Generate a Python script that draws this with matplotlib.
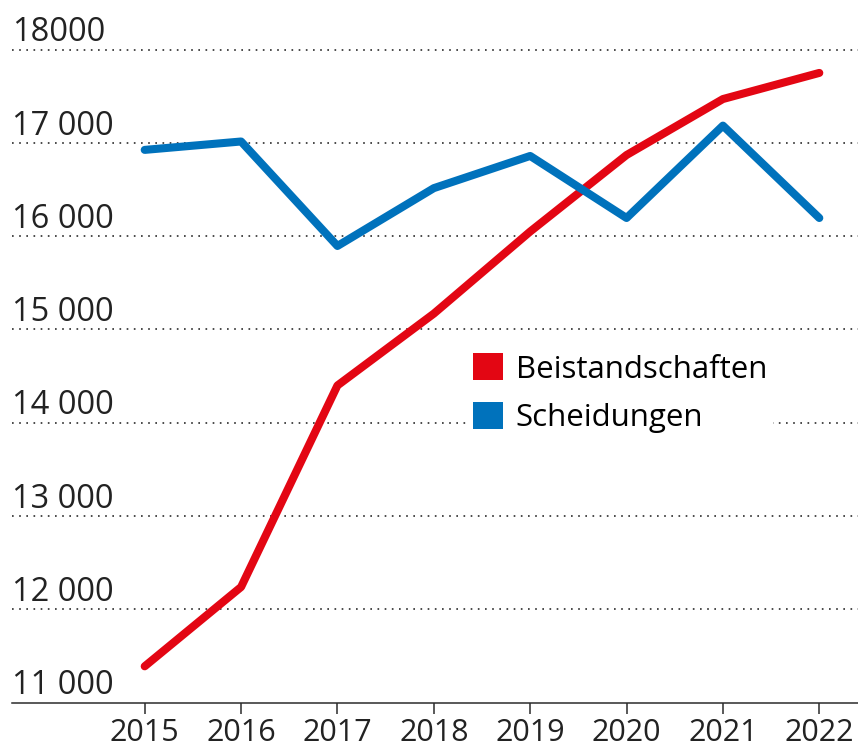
import matplotlib.pyplot as plt
from matplotlib.patches import Patch

plt.rcParams['font.family'] = ['Open Sans', 'DejaVu Sans']

# Data
years = [2015, 2016, 2017, 2018, 2019, 2020, 2021, 2022]
beistandschaften = [11390, 12240, 14400, 15170, 16050, 16870, 17470, 17750]
scheidungen = [16925, 17015, 15895, 16515, 16860, 16195, 17185, 16195]

y_ticks = [12000, 13000, 14000, 15000, 16000, 17000, 18000]
y_labels = ['12 000', '13 000', '14 000', '15 000', '16 000', '17 000', '18000']
bottom_label = '11 000'

red = '#e30613'
blue = '#0072bc'
grey = '#2b2b2b'

fig = plt.figure(figsize=(8.58, 7.48), dpi=100)
ax = fig.add_axes([12 / 858, 1 - 702.7 / 748, 1 - 12 / 858, (702.7 - 21.6) / 748])

ax.plot(years, beistandschaften, color=red, lw=5.8, solid_capstyle='round', zorder=3)
ax.plot(years, scheidungen, color=blue, lw=5.8, solid_capstyle='round', zorder=3)

ax.set_xlim(2015 - 132.7 / 96.37, 2022 + 38.7 / 96.37)
ax.set_ylim(11000, 18300)

# dotted gridlines
for v in y_ticks:
    ax.axhline(v, color=grey, lw=1.2, ls=(0, (1, 3.3)), zorder=1)

# y labels sit above their gridline
for v, lab in zip([11000] + y_ticks, [bottom_label] + y_labels):
    ax.annotate(lab, xy=(0, v), xycoords=('axes fraction', 'data'),
                xytext=(0, 6), textcoords='offset points',
                ha='left', va='baseline', fontsize=23.5, color='#222222')

ax.set_yticks([])
ax.set_xticks(years)
ax.set_xticklabels([str(y) for y in years])
ax.tick_params(axis='x', direction='out', length=8, width=1.1, color=grey,
               labelsize=22, labelcolor='#222222', pad=3)

for s in ['top', 'right', 'left']:
    ax.spines[s].set_visible(False)
ax.spines['bottom'].set_color(grey)
ax.spines['bottom'].set_linewidth(1.1)

handles = [Patch(facecolor=red, edgecolor='none', label='Beistandschaften'),
           Patch(facecolor=blue, edgecolor='none', label='Scheidungen')]
leg = ax.legend(handles=handles, loc='upper left', bbox_to_anchor=(0.538, 0.522),
                fontsize=22.5, frameon=True, facecolor='white', edgecolor='none',
                framealpha=1, handlelength=0.95, handleheight=0.95, handletextpad=0.4,
                labelspacing=0.55, borderpad=0.2, borderaxespad=0, fancybox=False)
leg.set_zorder(4)

fig.savefig('out.png', dpi=100)
